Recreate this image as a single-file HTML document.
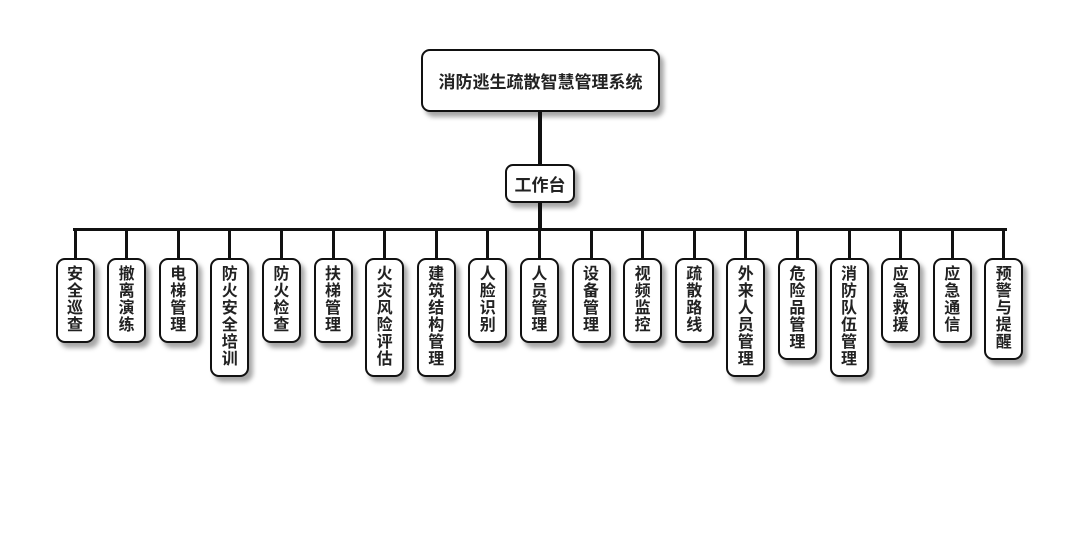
<!DOCTYPE html>
<html><head><meta charset="utf-8"><style>
body{margin:0;width:1080px;height:560px;background:#fff;position:relative;overflow:hidden;font-family:"Liberation Sans","Noto Sans CJK SC",sans-serif;font-weight:bold;color:#222}
.b{position:absolute;background:#fff;border:2px solid #111;border-radius:9px;box-shadow:4px 5px 5px rgba(0,0,0,.35);box-sizing:border-box;display:flex;align-items:center;justify-content:center}
.l{position:absolute;background:#111}
.v{display:block;padding-top:6px}
.v div{width:16px;margin:0 auto;font-size:16px;line-height:17px;word-break:break-all}
</style></head><body>
<div class="b" style="left:421px;top:49px;width:239px;height:63px;font-size:17px">消防逃生疏散智慧管理系统</div>
<div class="l" style="left:538px;top:112px;width:4px;height:52px"></div>
<div class="b" style="left:505px;top:164px;width:70px;height:39px;font-size:17px;border-radius:8px">工作台</div>
<div class="l" style="left:538px;top:203px;width:4px;height:27px"></div>
<div class="l" style="left:73px;top:228px;width:934px;height:3px"></div>
<div id="c"></div>
<script>
var n=["安全巡查","撤离演练","电梯管理","防火安全培训","防火检查","扶梯管理","火灾风险评估","建筑结构管理","人脸识别","人员管理","设备管理","视频监控","疏散路线","外来人员管理","危险品管理","消防队伍管理","应急救援","应急通信","预警与提醒"];
var h="";
n.forEach(function(t,i){var cx=75+i*51.6;
h+='<div class="l" style="left:'+(cx-1.5)+'px;top:229px;width:3px;height:30px"></div>';
h+='<div class="b v" style="left:'+(cx-19.5)+'px;top:258px;width:39px;height:'+(17+17*t.length)+'px"><div>'+t+'</div></div>';});
document.getElementById("c").innerHTML=h;
</script>
</body></html>
